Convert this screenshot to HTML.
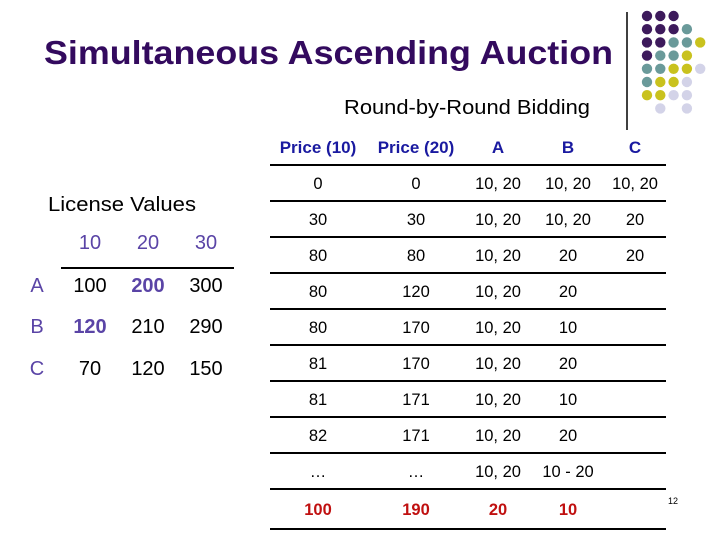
<!DOCTYPE html>
<html><head><meta charset="utf-8"><style>
html,body{margin:0;padding:0;background:#fff}
svg{display:block;font-family:"Liberation Sans",Arial,sans-serif}
</style></head><body>
<svg width="720" height="540" viewBox="0 0 720 540">
<text x="44" y="64" font-size="33" font-weight="bold" fill="#330a5e" textLength="569" lengthAdjust="spacingAndGlyphs">Simultaneous Ascending Auction</text>
<line x1="627" y1="12" x2="627" y2="130" stroke="#000" stroke-width="1.5"/>
<g id="dots"></g>
<text x="344" y="114" font-size="20" fill="#000" textLength="246" lengthAdjust="spacingAndGlyphs">Round-by-Round Bidding</text>
<text x="48" y="211" font-size="20" fill="#000" textLength="148" lengthAdjust="spacingAndGlyphs">License Values</text>
<g id="lic"></g>
<g id="bid"></g>
<text x="668" y="504" font-size="9" fill="#000">12</text>
</svg>
<script>
const NS="http://www.w3.org/2000/svg";
function mk(tag,attrs,parent,txt){const e=document.createElementNS(NS,tag);for(const k in attrs)e.setAttribute(k,attrs[k]);if(txt!==undefined)e.textContent=txt;parent.appendChild(e);return e;}
// dots
const dotRows=["PPP","PPPT","PPTTY","PTTY","TTYYL","TYYL","YYLL",".L.L"];
const dotCol={P:"#3d1a5c",T:"#6a9a9a",Y:"#c9c21e",L:"#d3d3e8"};
const dg=document.getElementById('dots');
dotRows.forEach((r,i)=>{[...r].forEach((c,j)=>{if(c==='.')return;
const d=mk('circle',{cx:647+j*13.3,cy:16+i*13.2,r:5.2,fill:dotCol[c]},dg);

});});
// license values
const licCols=["10","20","30"];
const licRows=["A","B","C"];
const licVals=[["100","200","300"],["120","210","290"],["70","120","150"]];
const licBold=[[0,1,0],[1,0,0],[0,0,0]];
const lg=document.getElementById('lic');
const lx=[90,148,206], ly=[292,333,375];
licCols.forEach((c,j)=>{const t=mk('text',{x:lx[j],y:249,'font-size':20,fill:'#5a44a6','text-anchor':'middle'},lg,c);

});
const hl=mk('line',{x1:61,y1:268,x2:234,y2:268,stroke:'#000','stroke-width':2},lg);


licRows.forEach((r,i)=>{const t=mk('text',{x:37,y:ly[i],'font-size':20,fill:'#5a44a6','text-anchor':'middle'},lg,r);


licVals[i].forEach((v,j)=>{const b=licBold[i][j];const c=mk('text',{x:lx[j],y:ly[i],'font-size':20,fill:b?'#5a44a6':'#000','font-weight':b?'bold':'normal','text-anchor':'middle'},lg,v);

});});
// bidding table
const bidHead=["Price (10)","Price (20)","A","B","C"];
const bidRows=[["0","0","10, 20","10, 20","10, 20"],["30","30","10, 20","10, 20","20"],["80","80","10, 20","20","20"],["80","120","10, 20","20",""],["80","170","10, 20","10",""],["81","170","10, 20","20",""],["81","171","10, 20","10",""],["82","171","10, 20","20",""],["…","…","10, 20","10 - 20",""],["100","190","20","10",""]];
const bx=[318,416,498,568,635];
const lineY=[165,201,237,273,309,345,381,417,453,489,529];
const bg=document.getElementById('bid');
bidHead.forEach((h,j)=>{const t=mk('text',{x:bx[j],y:153,'font-size':17,'font-weight':'bold',fill:'#1a1aa0','text-anchor':'middle'},bg,h);

});
lineY.forEach(y=>{const l=mk('line',{x1:270,y1:y,x2:666,y2:y,stroke:'#000','stroke-width':2},bg);

});
bidRows.forEach((r,i)=>{const last=i===bidRows.length-1;const y=(lineY[i]+lineY[i+1])/2+6;
r.forEach((v,j)=>{if(!v)return;const t=mk('text',{x:bx[j],y:y,'font-size':16.5,fill:last?'#c01010':'#000','font-weight':last?'bold':'normal','text-anchor':'middle'},bg,v);

});});
</script>
</body></html>
